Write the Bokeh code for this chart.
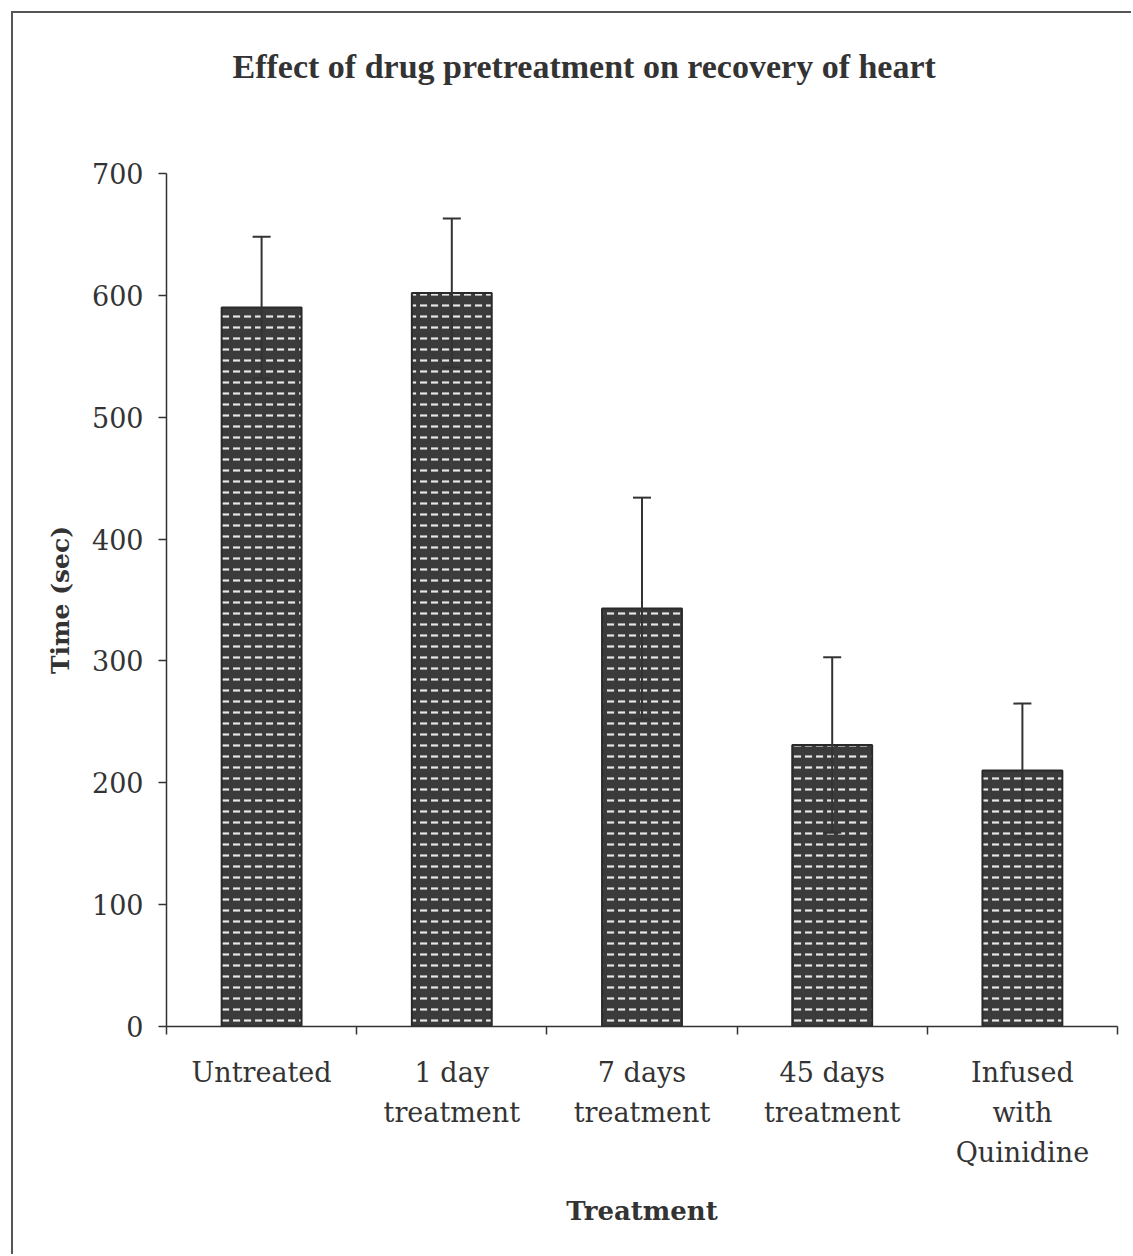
from bokeh.plotting import figure
from bokeh.models import (Range1d, FixedTicker, LinearAxis, Whisker, TeeHead,
                          ColumnDataSource, Title)
from bokeh.embed import file_html
from bokeh.resources import INLINE

# ---- data ----
categories = ["Untreated", "1 day treatment", "7 days treatment",
              "45 days treatment", "Infused with Quinidine"]
tick_labels = ["Untreated", "1 day\ntreatment", "7 days\ntreatment",
               "45 days\ntreatment", "Infused\nwith\nQuinidine"]
mean_time = [590, 602, 343, 231, 210]
sem_time = [58, 61, 91, 72, 55]
y_ticks = [0, 100, 200, 300, 400, 500, 600, 700]

n = len(categories)
centers = [i + 0.5 for i in range(n)]
bounds = [float(i) for i in range(n + 1)]

src = ColumnDataSource(dict(
    x=centers,
    top=mean_time,
    upper=[m + e for m, e in zip(mean_time, sem_time)],
    lower=[m - e for m, e in zip(mean_time, sem_time)],
))

INK = "#333333"
SERIF = "DejaVu Serif"

p = figure(width=1120, height=1243,
           x_range=Range1d(0, n), y_range=Range1d(0, y_ticks[-1]),
           x_axis_type=None,
           output_backend="svg", toolbar_location=None,
           min_border_left=153, min_border_right=16,
           min_border_top=160, min_border_bottom=230,
           margin=(11, 0, 0, 11),
           styles={"border-top": "2px solid #555555",
                   "border-left": "2px solid #555555"})
p.background_fill_color = "white"
p.border_fill_color = "white"
p.outline_line_color = None
p.ygrid.grid_line_color = None

# main title
p.title.text = "Effect of drug pretreatment on recovery of heart"
p.title.align = "left"
p.title.offset = 66
p.title.standoff = 0
p.title.text_font = "Liberation Serif"
p.title.text_font_style = "bold"
p.title.text_font_size = "34px"
p.title.text_color = INK

# spacer between title and plot area
spacer = Title(text=" ", text_font_size="1px", standoff=86)
p.add_layout(spacer, "above")

# bars
p.vbar(x="x", top="top", width=0.42, source=src,
       fill_color="#3b3b3b", line_color="#2a2a2a", line_width=2,
       hatch_pattern="horizontal_dash", hatch_color="#e6e6e6",
       hatch_scale=11, hatch_weight=2.2)

# error bars
w = Whisker(base="x", upper="upper", lower="lower", source=src,
            line_color=INK, line_width=2, level="overlay",
            upper_head=TeeHead(size=18, line_color=INK, line_width=2),
            lower_head=TeeHead(size=18, line_color=INK, line_width=2))
p.add_layout(w)

# y axis
ya = p.yaxis[0]
ya.ticker = FixedTicker(ticks=y_ticks)
ya.minor_tick_line_color = None
ya.major_tick_out = 8
ya.major_tick_in = 0
ya.axis_line_color = INK
ya.axis_line_width = 1.5
ya.major_tick_line_color = INK
ya.major_tick_line_width = 1.5
ya.major_label_text_font = SERIF
ya.major_label_text_font_size = "27px"
ya.major_label_text_color = INK
ya.major_label_standoff = 15
ya.axis_label = "Time (sec)"
ya.axis_label_text_font = SERIF
ya.axis_label_text_font_style = "bold"
ya.axis_label_text_font_size = "25px"
ya.axis_label_text_color = INK
ya.axis_label_standoff = 14

# x axis: labels at centers, boundary ticks as minor ticks
xa = LinearAxis(ticker=FixedTicker(ticks=centers, minor_ticks=bounds))
xa.major_label_overrides = {c: t for c, t in zip(centers, tick_labels)}
xa.major_tick_out = 0
xa.major_tick_in = 0
xa.minor_tick_out = 8
xa.minor_tick_in = 0
xa.minor_tick_line_color = INK
xa.minor_tick_line_width = 1.5
xa.axis_line_color = INK
xa.axis_line_width = 1.5
xa.major_label_text_font = SERIF
xa.major_label_text_font_size = "27px"
xa.major_label_text_color = INK
xa.major_label_text_line_height = 1.3
xa.major_label_standoff = 22
xa.axis_label = "Treatment"
xa.axis_label_text_font = SERIF
xa.axis_label_text_font_style = "bold"
xa.axis_label_text_font_size = "26px"
xa.axis_label_text_color = INK
xa.axis_label_standoff = 25
p.add_layout(xa, "below")

open("out.html", "w").write(file_html(p, INLINE))
